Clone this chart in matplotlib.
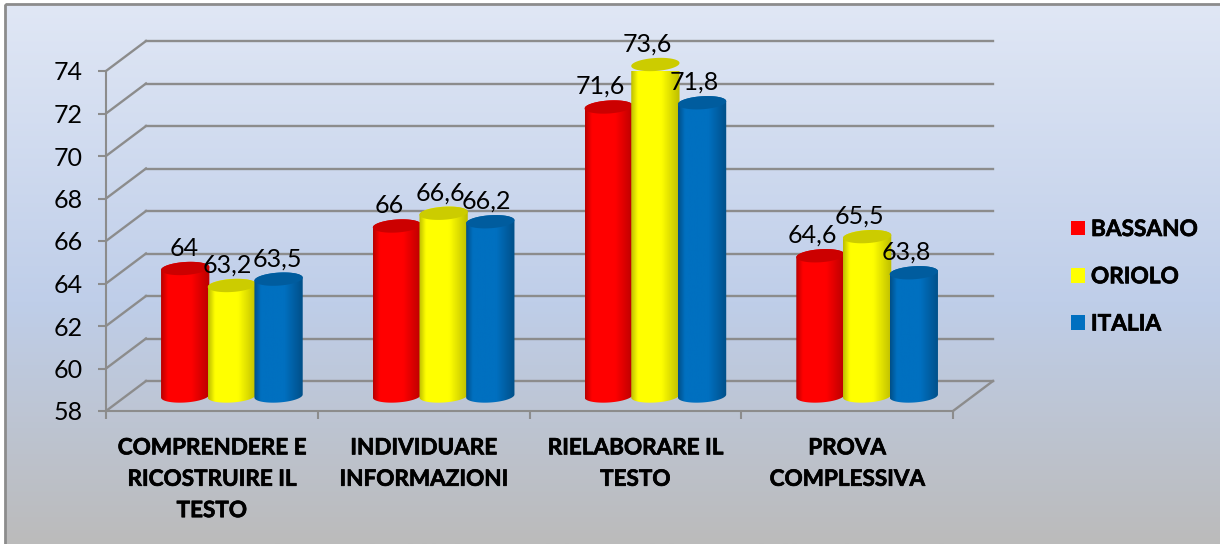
import numpy as np
import matplotlib
matplotlib.use("Agg")
import matplotlib.pyplot as plt
import matplotlib.patheffects as pe
from matplotlib.colors import LinearSegmentedColormap
from matplotlib.patches import Polygon, Rectangle
from matplotlib.transforms import Affine2D

plt.rcParams['font.family'] = ['Lato', 'DejaVu Sans']

# ---- data ----
categories = ['COMPRENDERE E\nRICOSTRUIRE IL\nTESTO', 'INDIVIDUARE\nINFORMAZIONI',
              'RIELABORARE IL\nTESTO', 'PROVA\nCOMPLESSIVA']
series_names = ['BASSANO', 'ORIOLO', 'ITALIA']
bassano = [64, 66, 71.6, 64.6]
oriolo = [63.2, 66.6, 73.6, 65.5]
italia = [63.5, 66.2, 71.8, 63.8]
y_ticks = [58, 60, 62, 64, 66, 68, 70, 72, 74]

# ---- style / layout ----
W, H = 1220, 544
BODY = ['#FF0000', '#FFFF00', '#0070C0']
EDGE = ['#B80000', '#BDBD00', '#004F88']
TOPC = ['#CC0000', '#CCCC00', '#005C9E']
GRID = '#8C8C8C'
DEPTH = (40, 30)          # pixels of the back wall relative to the front plane
BAR_W = 0.228
nudges = [[-1, -5, -1],
          [-8, -3, -4],
          [-8, -8, -8],
          [-8, -8, -8]]
LABEL_GAP = 20.5
BOLDER = [pe.withStroke(linewidth=0.5, foreground='black')]

fig = plt.figure(figsize=(W / 100, H / 100), dpi=100, facecolor='white')

# background
bg = fig.add_axes([0, 0, 1, 1], zorder=0)
bg.axis('off')
grad = LinearSegmentedColormap.from_list('bg', [(0, '#E0E7F5'), (0.55, '#BFCEE9'), (1, '#BBBBBB')])
bg.imshow(np.linspace(0, 1, 256)[:, None], cmap=grad, aspect='auto', extent=(5, W, H, 5))
bg.set_xlim(0, W)
bg.set_ylim(H, 0)
bg.add_patch(Rectangle((5, 4), W + 20, H + 20, fill=False, ec='#8C8C8C', lw=2))

# main axes = the front plane of the 3-D box
L, R, T, B = 106, 953, 71, 411
ax = fig.add_axes([L / W, 1 - B / H, (R - L) / W, (B - T) / H], zorder=1)
ax.set_xlim(0, 4)
ax.set_ylim(y_ticks[0], y_ticks[-1])
ax.patch.set_visible(False)
for s in ['top', 'right']:
    ax.spines[s].set_visible(False)
for s in ['left', 'bottom']:
    ax.spines[s].set_color(GRID)
    ax.spines[s].set_linewidth(1.5)
ax.set_yticks(y_ticks)
ax.set_xticks(range(5))
ax.set_xticklabels([])
ax.tick_params(axis='y', length=6, width=1.5, color=GRID, labelsize=18, pad=11)
ax.tick_params(axis='x', length=6, width=1.5, color=GRID)

back = ax.transData + Affine2D().translate(*DEPTH)
mid = ax.transData + Affine2D().translate(DEPTH[0] / 2, DEPTH[1] / 2)

# walls
for v in y_ticks:
    ax.plot([0, 4], [v, v], color=GRID, lw=1.7, transform=back, clip_on=False, zorder=1)
    x0, y0 = ax.transData.transform((0, v))
    ax.plot([x0, x0 + DEPTH[0]], [y0, y0 + DEPTH[1]], color=GRID, lw=1.7,
            transform=None, clip_on=False, zorder=1)
x1, y1 = ax.transData.transform((4, y_ticks[0]))
ax.plot([x1, x1 + DEPTH[0]], [y1, y1 + DEPTH[1]], color=GRID, lw=1.7,
        transform=None, clip_on=False, zorder=1)

# cylinders
px_x = (R - L) / 4
px_y = (B - T) / (y_ticks[-1] - y_ticks[0])
semi_h = 6.5 / px_y
slope = (3 / px_y) / (48 / px_x)


def ellipse_xy(xc, yc, t):
    dx = BAR_W / 2 * np.cos(t)
    return xc + dx, yc + semi_h * np.sin(t) + slope * dx


for i, vals in enumerate([bassano, oriolo, italia]):
    cmap = LinearSegmentedColormap.from_list(
        'c', [(0, EDGE[i]), (0.14, BODY[i]), (0.62, BODY[i]), (1, EDGE[i])])
    for c, v in enumerate(vals):
        xc = c + 0.5 + (i - 1) * 0.2205
        t_low = np.linspace(np.pi, 2 * np.pi, 40)
        t_up = np.linspace(0, np.pi, 40)
        bx, by = ellipse_xy(xc, y_ticks[0], t_low)
        tx, ty = ellipse_xy(xc, v, t_up)
        verts = np.column_stack([np.r_[bx, tx], np.r_[by, ty]])
        body = Polygon(verts, closed=True, transform=mid, fc='none', ec='none', zorder=3)
        ax.add_patch(body)
        im = ax.imshow(np.linspace(0, 1, 128)[None, :], cmap=cmap, aspect='auto',
                       extent=(xc - BAR_W / 2, xc + BAR_W / 2, y_ticks[0] - 1, v + 1),
                       transform=mid, zorder=3, clip_on=True)
        im.set_clip_path(body)
        t = np.linspace(0, 2 * np.pi, 80)
        ex, ey = ellipse_xy(xc, v, t)
        ax.fill(ex, ey, color=TOPC[i], transform=mid, zorder=3, clip_on=False, lw=0)
        ax.annotate(str(v).replace('.', ','), xy=(xc, v), xycoords=mid,
                    xytext=(nudges[c][i] * 0.72, LABEL_GAP * 0.72), textcoords='offset points',
                    ha='center', va='center', fontsize=18, color='black',
                    annotation_clip=False, zorder=5)

ax.set_xlim(0, 4)
ax.set_ylim(y_ticks[0], y_ticks[-1])

# category labels
for c, name in enumerate(categories):
    ax.annotate(name, xy=(c + 0.5, y_ticks[0]), xycoords='data', xytext=(0, -19),
                textcoords='offset points', ha='center', va='top', fontsize=16.2,
                fontweight='bold', linespacing=1.61, annotation_clip=False,
                path_effects=BOLDER)

# legend
handles = [Rectangle((0, 0), 1, 1, fc=BODY[i], ec='none') for i in range(3)]
leg = fig.legend(handles, series_names, loc='upper left', bbox_to_anchor=(1071 / W, 1 - 219 / H),
                 frameon=False, handlelength=0.61, handleheight=0.61,
                 handletextpad=0.27, labelspacing=1.16, borderpad=0, borderaxespad=0,
                 prop={'weight': 'bold', 'size': 16.3})
for txt in leg.get_texts():
    txt.set_path_effects(BOLDER)

fig.savefig('out.png', dpi=100, facecolor='white')
